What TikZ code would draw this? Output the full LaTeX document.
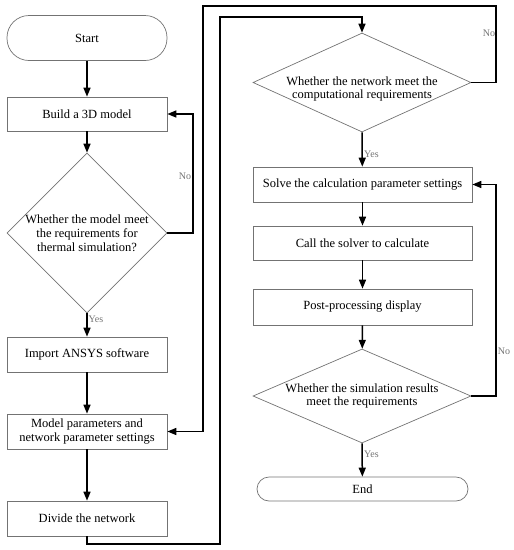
\documentclass[tikz,border=0pt]{standalone}
\usepackage{fontspec}
\setmainfont{Liberation Serif}
\usetikzlibrary{shapes.geometric,arrows.meta}
\begin{document}
\begin{tikzpicture}[x=1pt,y=-1pt,
  txt/.style={align=center,inner sep=0pt,font=\fontsize{12.5}{13.8}\selectfont},
  box/.style={draw=black!55,line width=0.7pt,rectangle,inner sep=1pt,txt},
  term/.style={box,rounded corners=12pt},
  dia/.style={draw=black!55,line width=0.7pt,diamond,inner sep=0pt},
  arr/.style={line width=1.5pt,-{Triangle[length=9pt,width=7pt]}},
  yn/.style={font=\fontsize{10}{11}\selectfont,text=black!55,inner sep=1pt}]
\useasboundingbox (0,0) rectangle (514,550);
% left column
\node[term,minimum width=160pt,minimum height=45pt,rounded corners=22pt] (start) at (87,38) {Start};
\node[box,minimum width=160pt,minimum height=34pt] (build) at (87,114) {Build a 3D model};
\node[dia,minimum width=160pt,minimum height=160pt] (d1) at (87,233) {};
\node[txt] (d1t) at (87,233) {Whether the model meet\\the requirements for\\thermal simulation?};
\node[box,minimum width=160pt,minimum height=35pt] (import) at (87,354.5) {Import ANSYS software};
\node[box,minimum width=160pt,minimum height=35pt] (model) at (87,431.5) {Model parameters and\\network parameter settings};
\node[box,minimum width=160pt,minimum height=35pt] (divide) at (87,518.5) {Divide the network};
% right column
\node[dia,minimum width=218pt,minimum height=99pt] (d2) at (362,82.5) {};
\node[txt] (d2t) at (362,89) {Whether the network meet the\\computational requirements};
\node[box,minimum width=219pt,minimum height=35pt] (solve) at (362.5,184.5) {Solve the calculation parameter settings};
\node[box,minimum width=219pt,minimum height=34pt] (call) at (362.5,243) {Call the solver to calculate};
\node[box,minimum width=219pt,minimum height=36pt] (post) at (362.5,307) {Post-processing display};
\node[dia,minimum width=218pt,minimum height=94pt] (d3) at (362,396) {};
\node[txt] (d3t) at (362,396) {Whether the simulation results\\meet the requirements};
\node[term,minimum width=211pt,minimum height=24pt] (end) at (362.5,489) {End};
% routing coordinates
\coordinate (c1) at (193,0);
\coordinate (xa) at (203,0);
\coordinate (xb) at (220,0);
\coordinate (xr) at (496,0);
\coordinate (ya) at (0,6);
\coordinate (yb) at (0,17);
\coordinate (yc) at (0,544);
% connectors
\draw[arr] (start) -- (build);
\draw[arr] (build) -- (d1);
\draw[arr] (d1.east) -| (c1 |- build) -- (build.east);
\node[yn] (no1) at (185,176) {No};
\draw[arr] (d1.south) -- (import);
\node[yn,anchor=west] (yes1) at (87.5,319) {Yes};
\draw[arr] (import) -- (model);
\draw[arr] (model) -- (divide);
\draw[arr] (divide.south) -- (divide.south |- yc) -- (xb |- yc) -- (xb |- yb) -- (d2.north |- yb) -- (d2.north);
\draw[arr] (d2.east) -- (xr |- d2.east) -- (xr |- ya) -- (xa |- ya) -- (xa |- model) -- (model.east);
\node[yn] (no2) at (489,33) {No};
\draw[arr] (d2.south) -- (solve);
\node[yn,anchor=west] (yes2) at (363,154) {Yes};
\draw[arr] (solve) -- (call);
\draw[arr] (call) -- (post);
\draw[arr] (post) -- (d3);
\draw[arr] (d3.east) -- (xr |- d3.east) -- (xr |- solve) -- (solve.east);
\node[yn] (no3) at (504,351) {No};
\draw[arr] (d3.south) -- (end);
\node[yn,anchor=west] (yes3) at (363,454) {Yes};
\end{tikzpicture}
\end{document}
